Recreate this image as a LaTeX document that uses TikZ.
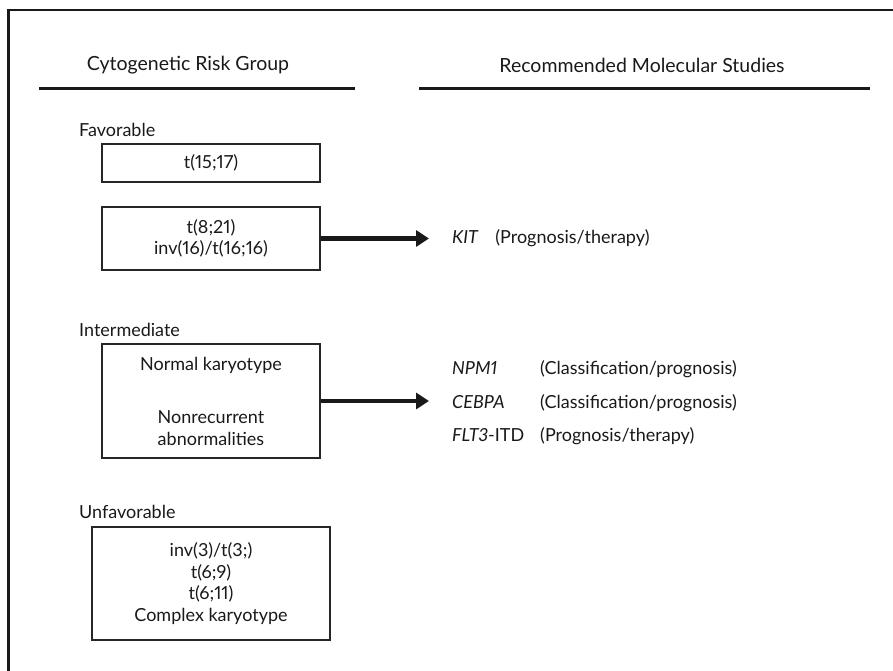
\documentclass[tikz,border=0pt]{standalone}
\usepackage{fontspec}
\setsansfont[Numbers=Proportional]{Lato}
\usetikzlibrary{positioning,arrows.meta}

\begin{document}
\begin{tikzpicture}[
	x=1pt, y=-1pt,
	font=\sffamily\fontsize{18}{21.5}\selectfont,
	text=black!90,
	frame/.style={draw=black!90, line width=2.2pt, line join=miter},
	rule/.style={draw=black!90, line width=3pt},
	riskbox/.style={
		draw=black!85,
		line width=1.1pt,
		minimum width=218pt,
		align=center,
		inner sep=0pt
	},
	group/.style={anchor=west, inner sep=0pt},
	gene/.style={anchor=base west, inner sep=0pt, font=\sffamily\itshape\fontsize{18}{21.5}\selectfont},
	study/.style={anchor=base west, inner sep=0pt},
	heading/.style={inner sep=0pt, font=\sffamily\fontsize{19.5}{23}\selectfont},
	bigarrow/.style={draw=black!90, line width=4.5pt, -{Triangle[length=13pt,width=16pt]}}
	]
	
	\useasboundingbox (0,0) rectangle (893,671);
	\draw[frame] (8.5,671) -- (8.5,10) -- (893,10);
	
	% column headings
	\node[heading] (riskhead) at (188,65) {Cytogenetic Risk Group};
	\node[heading] (studyhead) at (642,65) {Recommended Molecular Studies};
	\draw[rule] (39,89) -- (355,89);
	\draw[rule] (419,89) -- (870,89);
	
	% risk groups
	\node[group] (favlabel) at (79,130) {Favorable};
	\node[riskbox, minimum height=38pt] (apl) at (211,163) {t(15;17)};
	\node[riskbox, minimum height=63pt] (cbf) at (211,238.5)
	{t(8;21)\\inv(16)/t(16;16)};
	
	\node[group] (intlabel) at (79,330) {Intermediate};
	\node[riskbox, minimum height=114pt] (normal) at (211,401)
	{Normal karyotype\\[32pt]Nonrecurrent\\abnormalities};
	
	\node[group] (unflabel) at (79,512) {Unfavorable};
	\node[riskbox, minimum width=238pt, minimum height=113pt] (adverse) at (211,583.5)
	{inv(3)/t(3;)\\t(6;9)\\t(6;11)\\Complex karyotype};
	
	% molecular studies
	\node[gene] (kit) at (452,243.5) {KIT};
	\node[study, base right=17pt of kit] (kitnote) {(Prognosis/therapy)};
	
	\node[gene] (npm) at (452,374.5) {NPM1};
	\node[gene] (cebpa) at (452,408.5) {CEBPA};
	\node[gene] (flt) at (452,441.5) {FLT3\upshape-ITD};
	\node[study] (npmnote) at (540,374.5) {(Classification/prognosis)};
	\node[study] (cebpanote) at (540,408.5) {(Classification/prognosis)};
	\node[study] (fltnote) at (540,441.5) {(Prognosis/therapy)};
	
	\draw[bigarrow, shorten >=23pt] (cbf.east) -- (cbf.east -| kit.west);
	\draw[bigarrow, shorten >=23pt] (normal.east) -- (normal.east -| cebpa.west);
\end{tikzpicture}
\end{document}
